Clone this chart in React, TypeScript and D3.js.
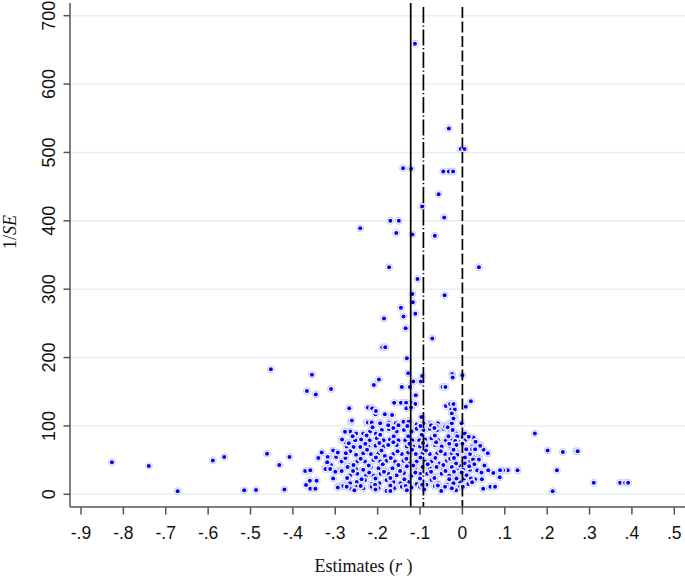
import React from "react";
import * as d3 from "d3";

// ---- axis ticks ----
const xTicks = [-0.9, -0.8, -0.7, -0.6, -0.5, -0.4, -0.3, -0.2, -0.1, 0, 0.1, 0.2, 0.3, 0.4, 0.5];
const xTickLabels = ["-.9", "-.8", "-.7", "-.6", "-.5", "-.4", "-.3", "-.2", "-.1", "0", ".1", ".2", ".3", ".4", ".5"];
const yTicks = [0, 100, 200, 300, 400, 500, 600, 700];

// ---- reference lines (estimate values) ----
const refValues = [-0.122, -0.092, 0];
const refStyles = ["solid", "dashdot", "dash"];

// ---- scattered / outlying studies [estimate r, 1/SE] ----
const sparsePoints: [number, number][] = [
  [-0.112, 659], [-0.032, 535], [-0.004, 505], [0.005, 505], [-0.14, 477], [-0.121, 476],
  [-0.045, 472], [-0.032, 472], [-0.022, 472], [-0.056, 439], [-0.095, 421], [-0.043, 405],
  [-0.17, 400], [-0.15, 400], [-0.241, 389], [-0.156, 382], [-0.118, 380], [-0.065, 378],
  [-0.173, 332], [0.039, 332], [-0.106, 315], [-0.118, 293], [-0.042, 291], [-0.117, 281],
  [-0.145, 273], [-0.185, 257], [-0.139, 260], [-0.111, 264], [-0.134, 243], [-0.071, 228],
  [-0.189, 215], [-0.182, 215], [-0.131, 199], [-0.128, 177], [-0.024, 176], [0.0, 174],
  [-0.197, 168], [-0.209, 160], [-0.452, 183], [-0.355, 175], [-0.367, 151], [-0.346, 146],
  [-0.31, 154], [-0.116, 165], [-0.124, 157], [-0.098, 165], [-0.095, 173], [-0.143, 157],
  [-0.11, 145], [-0.047, 157], [-0.04, 157], [-0.023, 171], [0.02, 136], [0.008, 128],
  [-0.161, 134], [-0.145, 134], [-0.133, 134], [-0.119, 134], [-0.111, 132], [-0.267, 126],
  [-0.223, 127], [-0.213, 126], [-0.205, 117], [-0.183, 117], [-0.166, 116], [-0.132, 126],
  [-0.121, 127], [-0.097, 113], [-0.039, 129], [-0.029, 132], [-0.021, 132], [-0.026, 124],
  [-0.018, 124], [-0.018, 113], [-0.261, 108], [-0.204, 122], [-0.025, 118], [-0.021, 111],
  [-0.827, 47], [-0.74, 41.5], [-0.672, 4.4], [-0.589, 49.6], [-0.562, 54.5], [-0.515, 5.8],
  [-0.487, 6.3], [-0.461, 59.4], [-0.432, 43], [-0.42, 7], [-0.408, 54.5],
  [-0.371, 34], [-0.359, 35], [-0.36, 20], [-0.344, 20], [-0.369, 13.6], [-0.359, 8],
  [-0.347, 8], [-0.332, 61], [-0.318, 54.5], [-0.319, 47], [-0.323, 37], [-0.312, 37],
  [-0.298, 54.5], [-0.294, 61], [-0.284, 80], [-0.277, 91.5], [-0.275, 60], [-0.285, 34],
  [-0.294, 10], [-0.281, 12], [-0.273, 11], [-0.268, 74.5],
  [0.171, 89], [0.201, 64], [0.237, 62], [0.268, 63], [0.272, 63], [0.223, 35], [0.213, 4.4],
  [0.31, 17], [0.372, 17], [0.384, 17], [0.391, 17], [0.13, 35], [0.107, 35], [0.096, 35],
  [0.089, 35], [0.061, 35], [0.035, 35], [0.073, 31], [0.088, 25], [0.066, 11], [0.077, 11],
  [0.049, 8], [0.06, 60], [0.042, 71], [0.045, 32], [0.046, 22], [0.023, 17.5], [0.001, 11],
  [0.015, 84], [0.023, 66], [0.03, 66], [0.039, 51],
];

// ---- dense cloud of studies [estimate r, 1/SE] ----
const cloudPoints: [number, number][] = [
  [-0.226, 105], [-0.195, 105], [-0.174, 105], [-0.157, 104], [-0.139, 106], [-0.126, 107], [-0.108, 102],
  [-0.092, 104], [-0.077, 104], [-0.058, 104], [-0.041, 101], [-0.029, 104], [-0.002, 104],
  [-0.277, 92], [-0.265, 92], [-0.251, 89], [-0.234, 89], [-0.218, 92], [-0.204, 89], [-0.19, 94],
  [-0.173, 95], [-0.155, 92], [-0.138, 94], [-0.12, 92], [-0.108, 96], [-0.092, 94], [-0.077, 96],
  [-0.059, 94], [-0.045, 96], [-0.029, 94], [-0.014, 89], [0.002, 88], [0.014, 84],
  [-0.285, 80], [-0.267, 75], [-0.253, 79], [-0.239, 80], [-0.219, 79], [-0.202, 82], [-0.186, 79],
  [-0.171, 80], [-0.151, 79], [-0.135, 79], [-0.118, 79], [-0.102, 79], [-0.088, 80], [-0.073, 82],
  [-0.057, 79], [-0.039, 79], [-0.025, 79], [-0.01, 79], [0.006, 79], [0.022, 70], [0.042, 72],
  [-0.273, 70], [-0.257, 69], [-0.241, 69], [-0.222, 70], [-0.205, 71], [-0.186, 70], [-0.175, 72],
  [-0.155, 72], [-0.131, 70], [-0.116, 70], [-0.1, 70], [-0.085, 71], [-0.065, 72], [-0.049, 70],
  [-0.029, 70], [-0.012, 72], [0.006, 67], [0.024, 66],
  [-0.316, 55], [-0.297, 55], [-0.251, 58], [-0.234, 60], [-0.216, 59], [-0.198, 60], [-0.183, 56],
  [-0.163, 59], [-0.143, 59], [-0.128, 61], [-0.11, 59], [-0.094, 60], [-0.077, 59], [-0.059, 60],
  [-0.041, 59], [-0.025, 60], [-0.01, 61], [0.01, 55], [0.028, 54], [0.04, 54], [0.059, 60],
  [-0.285, 48], [-0.268, 43], [-0.248, 48], [-0.23, 48], [-0.21, 50], [-0.194, 48], [-0.179, 49],
  [-0.159, 48], [-0.139, 49], [-0.124, 45], [-0.108, 48], [-0.088, 48], [-0.073, 48], [-0.054, 45],
  [-0.037, 49], [-0.017, 46], [0.002, 48], [0.018, 48],
  [-0.324, 38], [-0.289, 36], [-0.271, 40], [-0.251, 37], [-0.234, 36], [-0.216, 40], [-0.198, 38],
  [-0.183, 36], [-0.165, 38], [-0.147, 39], [-0.131, 41], [-0.112, 37], [-0.094, 40], [-0.077, 39],
  [-0.061, 40], [-0.045, 38], [-0.027, 41], [-0.01, 38], [0.002, 36], [0.018, 36],
  [-0.265, 28], [-0.248, 30], [-0.227, 28], [-0.21, 27], [-0.193, 30], [-0.175, 30], [-0.155, 28],
  [-0.138, 31], [-0.12, 27], [-0.1, 30], [-0.083, 30], [-0.066, 27], [-0.049, 30], [-0.031, 27],
  [-0.017, 30], [-0.006, 30],
  [-0.294, 11], [-0.281, 15], [-0.265, 16], [-0.249, 18], [-0.23, 21], [-0.214, 15], [-0.196, 16],
  [-0.179, 21], [-0.163, 18], [-0.146, 16], [-0.128, 18], [-0.108, 15], [-0.092, 16], [-0.073, 21],
  [-0.057, 16], [-0.037, 14], [-0.023, 20], [-0.006, 18], [0.018, 18],
  [-0.265, 9], [-0.249, 11], [-0.234, 9], [-0.214, 11], [-0.198, 9], [-0.179, 5], [-0.161, 9],
  [-0.143, 11], [-0.12, 10], [-0.1, 11], [-0.085, 14], [-0.065, 12], [-0.041, 11], [-0.021, 12], [-0.006, 11],
  [-0.263, 106], [-0.223, 105], [-0.214, 105], [-0.194, 104], [-0.175, 101], [-0.151, 101], [-0.127, 106],
  [-0.095, 113], [-0.074, 101], [-0.061, 99], [-0.041, 99], [-0.025, 104],
  [-0.212, 98], [-0.163, 97], [-0.13, 100], [-0.099, 100], [-0.066, 97], [-0.035, 98],
  [-0.259, 85], [-0.226, 86], [-0.194, 87], [-0.162, 85], [-0.128, 85], [-0.096, 87],
  [-0.065, 86], [-0.033, 85], [-0.004, 84], [0.026, 83],
  [-0.276, 76], [-0.229, 74], [-0.196, 75], [-0.163, 76], [-0.125, 74], [-0.093, 75],
  [-0.062, 76], [-0.031, 74], [0.0, 74], [0.031, 77],
  [-0.305, 64], [-0.265, 63], [-0.225, 65], [-0.191, 64], [-0.153, 63], [-0.119, 65],
  [-0.086, 64], [-0.051, 63], [-0.019, 65], [0.012, 64], [0.05, 65],
  [-0.34, 53], [-0.276, 53], [-0.24, 52], [-0.204, 54], [-0.169, 53], [-0.132, 52],
  [-0.099, 54], [-0.064, 53], [-0.029, 52], [0.006, 54], [0.025, 51],
  [-0.31, 43], [-0.257, 43], [-0.221, 42], [-0.188, 44], [-0.151, 43], [-0.116, 42],
  [-0.082, 44], [-0.045, 43], [-0.008, 42], [0.028, 44], [0.052, 42],
  [-0.3, 33], [-0.258, 34], [-0.22, 32], [-0.185, 33], [-0.147, 34], [-0.111, 32],
  [-0.074, 33], [-0.04, 34], [-0.002, 32],
  [-0.305, 23], [-0.272, 24], [-0.238, 22], [-0.205, 23], [-0.17, 24], [-0.137, 22],
  [-0.1, 23], [-0.066, 24], [-0.031, 22], [0.004, 23], [0.03, 22],
  [-0.287, 13], [-0.24, 12], [-0.206, 14], [-0.17, 13], [-0.134, 12], [-0.095, 14],
  [-0.058, 13], [-0.025, 12],
  [-0.255, 6], [-0.205, 7], [-0.17, 5], [-0.131, 6], [-0.09, 7], [-0.05, 5], [-0.015, 6],
  [-0.023, 94], [-0.012, 85], [-0.017, 78], [-0.014, 72], [-0.021, 65], [-0.012, 58],
  [-0.02, 53], [-0.015, 45], [-0.025, 40], [-0.02, 33], [-0.014, 23], [-0.021, 16], [-0.025, 9],
  [0.006, 89], [0.009, 66], [0.018, 59], [0.006, 45], [0.016, 41], [0.01, 28], [0.02, 23], [0.014, 15],
];

const allPoints = [...cloudPoints, ...sparsePoints];

const W = 685;
const H = 579;
const axisX = 70;
const axisY = 507;

export default function App() {
  const x = d3.scaleLinear().domain([-0.9, 0.5]).range([81, 674.3]);
  const y = d3.scaleLinear().domain([0, 700]).range([494.3, 15.7]);

  const dashFor = (s: string) =>
    s === "dash" ? "11,3.5" : s === "dashdot" ? "16,2.5,1.2,2.8" : undefined;

  return (
    <svg
      width={W}
      height={H}
      style={{ position: "absolute", left: 0, top: 0, background: "#fff" }}
      xmlns="http://www.w3.org/2000/svg"
    >
      <rect x={0} y={0} width={W} height={H} fill="#ffffff" />
      {/* grid */}
      {yTicks.map((t) => (
        <line key={"g" + t} x1={axisX} x2={W} y1={y(t)} y2={y(t)} stroke="#e9f0f1" strokeWidth={1.6} />
      ))}

      {/* points: each marker drawn as halo + core, in order */}
      <g>
        {allPoints.map((p, i) => (
          <g key={"p" + i}>
            <circle cx={x(p[0])} cy={y(p[1])} r={3.5} fill="#ffffff" stroke="#c4c4f0" strokeWidth={0.9} />
            <circle cx={x(p[0])} cy={y(p[1])} r={2.0} fill="#0000ff" />
          </g>
        ))}
      </g>

      {/* reference lines */}
      {refValues.map((v, i) => (
        <line
          key={"r" + i}
          x1={x(v)}
          x2={x(v)}
          y1={refStyles[i] === "solid" ? 3 : 7}
          y2={axisY}
          stroke="#000"
          strokeWidth={1.7}
          strokeDasharray={dashFor(refStyles[i])}
        />
      ))}

      {/* y axis */}
      <line x1={axisX} x2={axisX} y1={3} y2={axisY} stroke="#555" strokeWidth={1.5} />
      {yTicks.map((t) => (
        <g key={"yt" + t}>
          <line x1={axisX - 6.5} x2={axisX} y1={y(t)} y2={y(t)} stroke="#555" strokeWidth={1.5} />
          <text
            transform={`translate(55,${y(t)}) rotate(-90)`}
            textAnchor="middle"
            fontFamily="'Liberation Sans', Arial, sans-serif"
            fontSize={18}
            fill="#111"
          >
            {t}
          </text>
        </g>
      ))}

      {/* x axis */}
      <line x1={axisX} x2={W} y1={axisY} y2={axisY} stroke="#555" strokeWidth={1.5} />
      {xTicks.map((t, i) => (
        <g key={"xt" + i}>
          <line x1={x(t)} x2={x(t)} y1={axisY} y2={axisY + 7.5} stroke="#555" strokeWidth={1.5} />
          <text
            x={x(t)}
            y={538.5}
            textAnchor="middle"
            fontFamily="'Liberation Sans', Arial, sans-serif"
            fontSize={17.5}
            fill="#111"
          >
            {xTickLabels[i]}
          </text>
        </g>
      ))}

      {/* axis titles */}
      <text
        x={363.5}
        y={572}
        textAnchor="middle"
        fontFamily="'Liberation Serif', 'Times New Roman', serif"
        fontSize={18}
        fill="#111"
      >
        Estimates (<tspan fontStyle="italic">r</tspan> )
      </text>
      <text
        transform="translate(16,232) rotate(-90)"
        textAnchor="middle"
        fontFamily="'Liberation Serif', 'Times New Roman', serif"
        fontSize={18}
        fill="#111"
      >
        1/<tspan fontStyle="italic">SE</tspan>
      </text>
    </svg>
  );
}
